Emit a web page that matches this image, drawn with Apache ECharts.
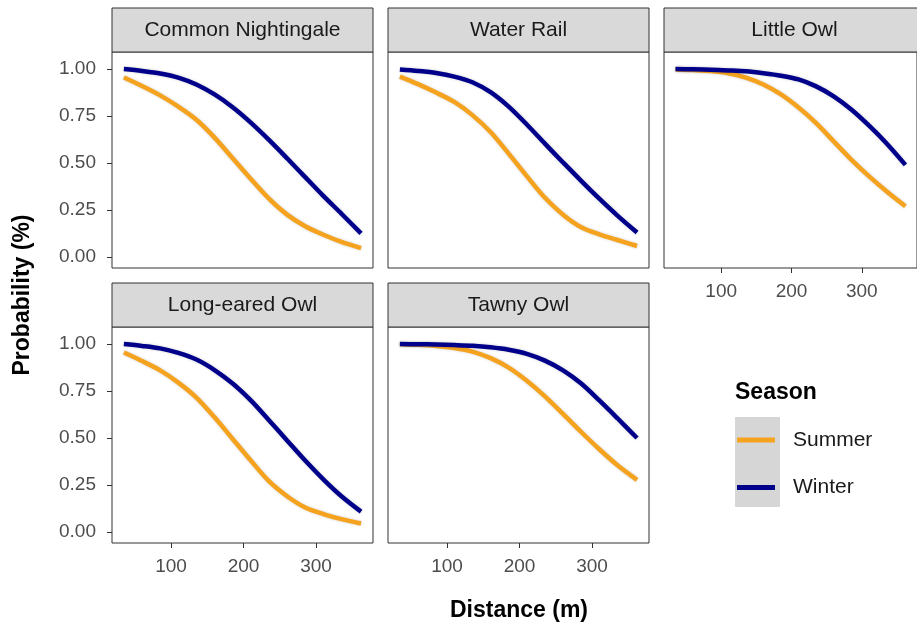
<!DOCTYPE html>
<html>
<head>
<meta charset="utf-8">
<title>Probability by distance</title>
<script src="https://cdn.jsdelivr.net/npm/echarts@6/dist/echarts.min.js"></script>
<style>
    html, body { margin: 0; padding: 0; background: #fff; }
    #chart { width: 917px; height: 628px; }
</style>
</head>
<body>
<div id="chart"></div>
<script>
// 数据
var species = ['Common Nightingale', 'Water Rail', 'Little Owl', 'Long-eared Owl', 'Tawny Owl']
var seasons = ['Summer', 'Winter']
var distance = [35, 60, 85, 110, 135, 160, 185, 210, 235, 260, 285, 310, 335, 362]
var summerProb = [
    [0.955, 0.91, 0.86, 0.80, 0.73, 0.635, 0.525, 0.415, 0.31, 0.225, 0.163, 0.118, 0.08, 0.047],
    [0.96, 0.92, 0.875, 0.825, 0.755, 0.665, 0.55, 0.43, 0.315, 0.225, 0.158, 0.12, 0.09, 0.058],
    [0.998, 0.995, 0.99, 0.978, 0.955, 0.918, 0.865, 0.795, 0.712, 0.615, 0.518, 0.43, 0.35, 0.27],
    [0.955, 0.91, 0.86, 0.795, 0.715, 0.61, 0.495, 0.38, 0.27, 0.19, 0.13, 0.095, 0.068, 0.045],
    [0.999, 0.996, 0.99, 0.979, 0.96, 0.925, 0.875, 0.805, 0.722, 0.628, 0.532, 0.44, 0.355, 0.277]
]
var winterProb = [
    [1.0, 0.99, 0.977, 0.955, 0.918, 0.865, 0.797, 0.715, 0.623, 0.525, 0.425, 0.325, 0.23, 0.125],
    [0.998, 0.99, 0.979, 0.96, 0.93, 0.877, 0.80, 0.705, 0.603, 0.503, 0.405, 0.31, 0.22, 0.13],
    [1.0, 0.999, 0.997, 0.993, 0.988, 0.978, 0.965, 0.945, 0.908, 0.855, 0.785, 0.70, 0.605, 0.49],
    [1.0, 0.99, 0.977, 0.953, 0.918, 0.862, 0.79, 0.70, 0.595, 0.487, 0.38, 0.28, 0.19, 0.108],
    [1.0, 0.999, 0.998, 0.995, 0.991, 0.983, 0.97, 0.948, 0.912, 0.86, 0.79, 0.70, 0.605, 0.50]
]
var xTicks = [100, 200, 300]
var yTicks = [0, 0.25, 0.5, 0.75, 1]

;(function () {
    var colLeft = [112, 388, 664]
    var stripTop = [8, 283]
    var panelW = 261
    var stripH = 44
    var panelH = 216
    var font = 'Liberation Sans, Arial, sans-serif'
    var colors = { Summer: '#F5A31F', Winter: '#00008B' }
    var dark = '#333333'

    var chart = echarts.init(document.getElementById('chart'), null, { renderer: 'canvas' })

    var grids = [], xAxes = [], yAxes = [], series = [], graphics = []

    species.forEach(function (name, i) {
        var row = i < 3 ? 0 : 1
        var col = i < 3 ? i : i - 3
        var left = colLeft[col]
        var top = stripTop[row] + stripH
        var showX = row === 1 || i === 2 // 下方没有面板时显示x轴
        var showY = col === 0

        grids.push({
            left: left, top: top, width: panelW, height: panelH,
            show: true, backgroundColor: '#fff', borderColor: dark, borderWidth: 1
        })
        xAxes.push({
            type: 'value', gridIndex: i, min: 18.6, max: 378.5,
            axisLine: { show: false, onZero: false },
            splitLine: { show: false },
            axisTick: { show: showX, customValues: xTicks, length: 5, lineStyle: { color: dark } },
            axisLabel: {
                show: showX, customValues: xTicks, margin: 14,
                color: '#4D4D4D', fontSize: 19, fontFamily: font
            }
        })
        yAxes.push({
            type: 'value', gridIndex: i, min: -0.059, max: 1.091,
            axisLine: { show: false, onZero: false },
            splitLine: { show: false },
            axisTick: { show: showY, customValues: yTicks, length: 5, lineStyle: { color: dark } },
            axisLabel: {
                show: showY, customValues: yTicks, margin: 16,
                color: '#4D4D4D', fontSize: 19, fontFamily: font,
                formatter: function (v) { return v.toFixed(2) }
            }
        })

        // 分面标题
        graphics.push({
            type: 'rect',
            shape: { x: left, y: stripTop[row], width: panelW, height: stripH },
            style: { fill: '#D9D9D9', stroke: dark, lineWidth: 1 }
        })
        graphics.push({
            type: 'text',
            x: left + panelW / 2, y: stripTop[row] + stripH / 2,
            style: {
                text: name, fill: '#1A1A1A', fontSize: 21, fontFamily: font,
                align: 'center', verticalAlign: 'middle'
            }
        })

        var probs = [summerProb[i], winterProb[i]]
        seasons.forEach(function (s, k) {
            series.push({
                name: s, type: 'line', xAxisIndex: i, yAxisIndex: i,
                data: distance.map(function (d, j) { return [d, probs[k][j]] }),
                smooth: 0.3, showSymbol: false, symbol: 'none',
                itemStyle: { color: colors[s] },
                lineStyle: {
                    color: colors[s], width: 4.5,
                    shadowColor: 'rgba(0,0,0,0.18)', shadowBlur: 3
                },
                silent: true
            })
        })
    })

    // 坐标轴标题
    graphics.push({
        type: 'text', x: 23, y: 295, rotation: Math.PI / 2,
        style: {
            text: 'Probability (%)', fill: '#000', fontSize: 23, fontWeight: 'bold',
            fontFamily: font, align: 'center', verticalAlign: 'middle'
        }
    })
    graphics.push({
        type: 'text', x: 519, y: 611,
        style: {
            text: 'Distance (m)', fill: '#000', fontSize: 23, fontWeight: 'bold',
            fontFamily: font, align: 'center', verticalAlign: 'middle'
        }
    })
    // 图例
    graphics.push({
        type: 'text', x: 735, y: 393,
        style: {
            text: 'Season', fill: '#000', fontSize: 23, fontWeight: 'bold',
            fontFamily: font, align: 'left', verticalAlign: 'middle'
        }
    })
    graphics.push({
        type: 'rect', z: -1,
        shape: { x: 735, y: 417, width: 45, height: 90 },
        style: { fill: '#D6D6D6' }
    })

    var option = {
        animation: false,
        backgroundColor: '#fff',
        grid: grids,
        xAxis: xAxes,
        yAxis: yAxes,
        series: series,
        graphic: graphics,
        legend: {
            data: seasons, orient: 'vertical', left: 737, top: 428, padding: 0,
            icon: 'rect', itemWidth: 38, itemHeight: 5, itemGap: 23.5,
            selectedMode: false,
            textStyle: {
                color: '#1A1A1A', fontSize: 21, fontFamily: font,
                lineHeight: 24, padding: [0, 0, 0, 13]
            }
        }
    }

    chart.setOption(option)
}())
</script>
</body>
</html>
